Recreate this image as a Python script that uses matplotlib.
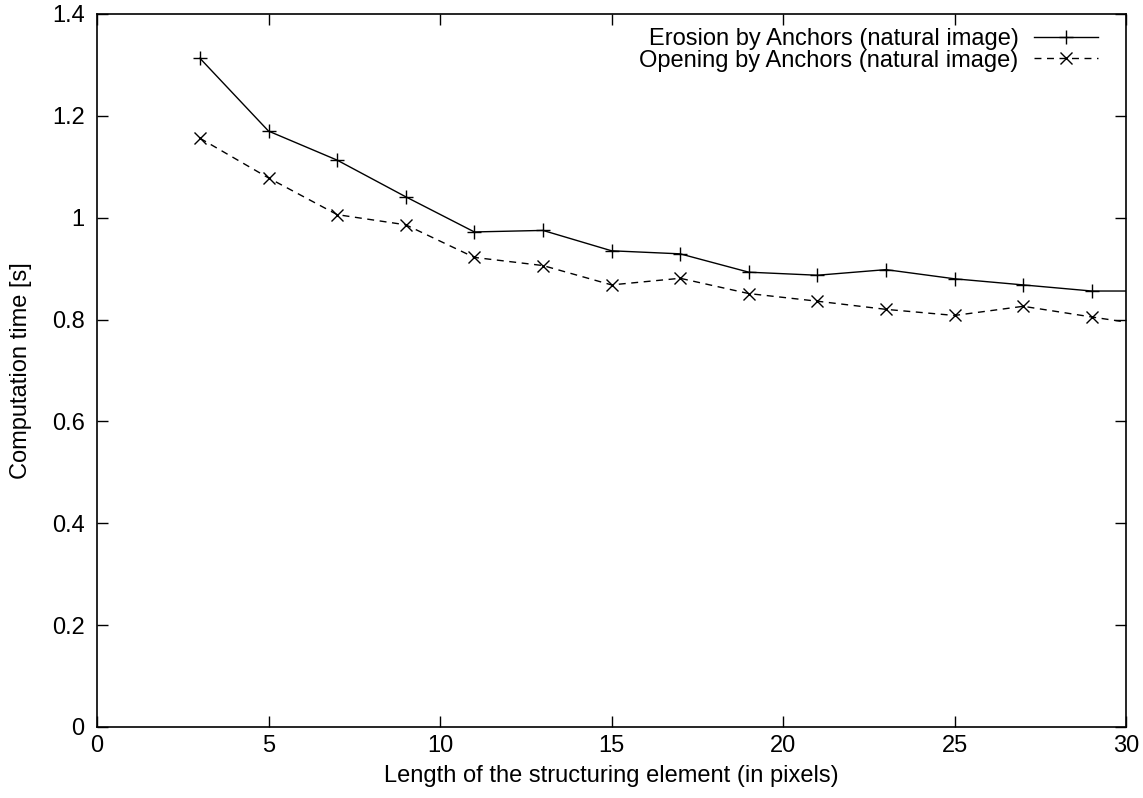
import matplotlib.pyplot as plt

plt.rcParams['font.family'] = ['Liberation Sans', 'DejaVu Sans']

lengths = [3, 5, 7, 9, 11, 13, 15, 17, 19, 21, 23, 25, 27, 29, 31]
erosion = [1.313, 1.170, 1.113, 1.041, 0.972, 0.975, 0.935, 0.929, 0.893,
           0.887, 0.898, 0.880, 0.868, 0.856, 0.856]
opening = [1.156, 1.078, 1.006, 0.986, 0.922, 0.906, 0.868, 0.881, 0.851,
           0.836, 0.820, 0.808, 0.826, 0.805, 0.785]

fig = plt.figure(figsize=(11.43, 7.98), dpi=100)
ax = fig.add_axes([0.0849, 0.089, 0.9003, 0.8935])

ax.plot(lengths, erosion, color='black', linewidth=1, marker='+', markersize=10,
        markeredgewidth=1, label='Erosion by Anchors (natural image)')
ax.plot(lengths, opening, color='black', linewidth=1, linestyle=(0, (5, 4)),
        marker='x', markersize=8, markeredgewidth=1,
        label='Opening by Anchors (natural image)')

ax.set_xlim(0, 30)
ax.set_ylim(0, 1.4)
ax.set_xticks([0, 5, 10, 15, 20, 25, 30])
ax.set_yticks([0, 0.2, 0.4, 0.6, 0.8, 1.0, 1.2, 1.4])
ax.set_yticklabels(['0', '0.2', '0.4', '0.6', '0.8', '1', '1.2', '1.4'])
ax.tick_params(direction='in', top=True, right=True, length=8, width=1,
               labelsize=17)
ax.tick_params(axis='x', pad=6)
ax.tick_params(axis='y', pad=9)
for s in ax.spines.values():
    s.set_linewidth(1.2)

ax.set_xlabel('Length of the structuring element (in pixels)', fontsize=17)
ax.set_ylabel('Computation time [s]', fontsize=17)
ax.xaxis.set_label_coords(0.5, -0.053)
ax.yaxis.set_label_coords(-0.063, 0.5)

ax.legend(loc='upper right', bbox_to_anchor=(0.9815, 0.993), frameon=False,
          markerfirst=False, fontsize=17, handlelength=2.7, borderaxespad=0,
          labelspacing=-0.03, handletextpad=0.65)

fig.savefig('out.png', dpi=100)
